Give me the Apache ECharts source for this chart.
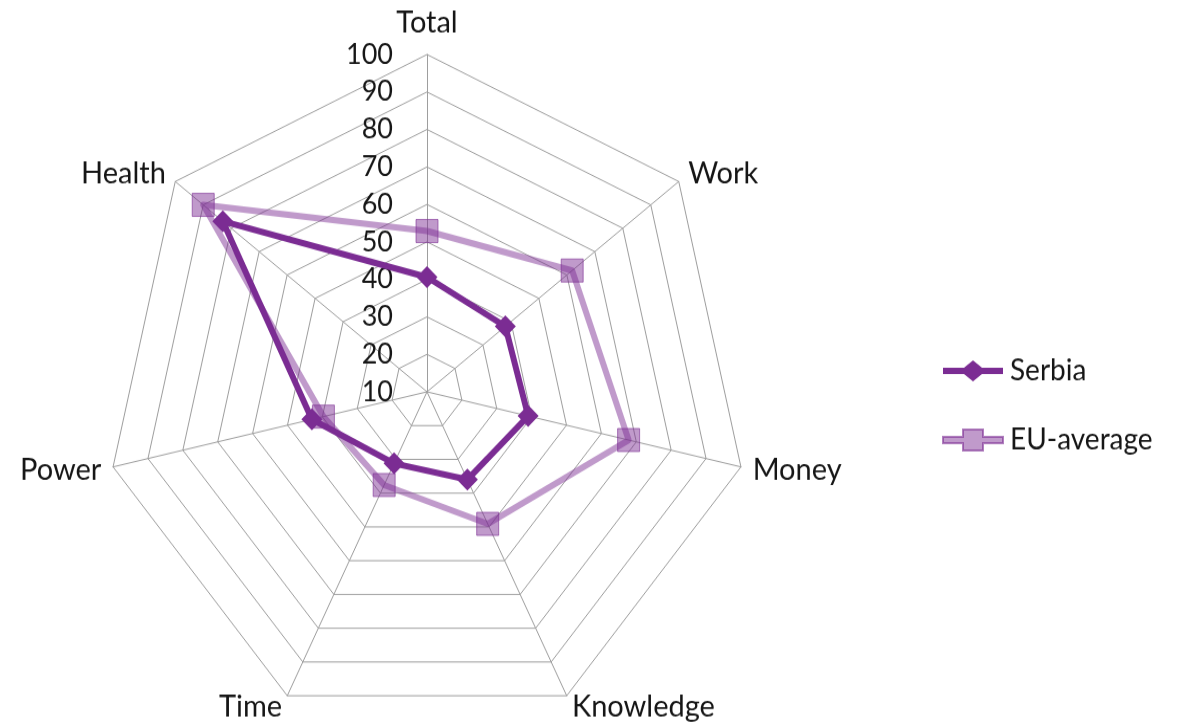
<!DOCTYPE html>
<html><head><meta charset="utf-8">
<script src="https://cdn.jsdelivr.net/npm/echarts@6/dist/echarts.min.js"></script>
<style>
html,body{margin:0;padding:0;background:#fff;overflow:hidden}
#wrap{width:1178px;height:727px;overflow:hidden;position:relative}
#chart{width:1178px;height:694px;transform:scaleY(1.0476);transform-origin:0 0}
</style></head><body><div id="wrap"><div id="chart"></div></div>
<script>
// Data
const categories = ['Total', 'Work', 'Money', 'Knowledge', 'Time', 'Power', 'Health'];
const serbia = [40.6, 38.0, 39.0, 36.0, 31.2, 43.0, 83.0];
const euAverage = [52.9, 61.9, 67.8, 49.1, 37.6, 39.7, 90.0];
const seriesNames = ['Serbia', 'EU-average'];
const axisMin = 10;
const axisMax = 100;
const axisSplits = 9;

// ECharts lays indicators out counter-clockwise; reorder so they read clockwise.
const order = [0, 6, 5, 4, 3, 2, 1];
const pick = arr => order.map(i => arr[i]);

const FONT = 'Lato, "Open Sans", sans-serif';
const TEXT_COLOR = '#161616';
const SERBIA_COLOR = '#7b2c93';
const EU_COLOR = 'rgba(123,44,147,0.48)';

const indicator = order.map((i, k) => {
  const o = { name: categories[i], min: axisMin, max: axisMax };
  if (k === 0) {
    o.nameGap = 16;
    o.axisLabel = { show: true, margin: 34, color: TEXT_COLOR, fontSize: 27, fontFamily: FONT };
  }
  return o;
});

const chart = echarts.init(document.getElementById('chart'));
chart.setOption({
  backgroundColor: '#fff',
  animation: false,
  legend: {
    orient: 'vertical',
    left: 937,
    top: 335,
    itemWidth: 64,
    itemHeight: 20,
    itemGap: 38,
    textStyle: { fontSize: 28, fontFamily: FONT, color: TEXT_COLOR, lineHeight: 20 },
    data: [
      { name: seriesNames[0], icon: 'path://M0,7L21,7L30,0L39,7L60,7L60,13L39,13L30,20L21,13L0,13Z' },
      { name: seriesNames[1], icon: 'path://M0,7L20,7L20,0L40,0L40,7L60,7L60,13L40,13L40,20L20,20L20,13L0,13Z' }
    ]
  },
  radar: {
    center: [427, 374],
    radius: 322,
    startAngle: 90,
    shape: 'polygon',
    splitNumber: axisSplits,
    indicator: indicator,
    axisName: { color: TEXT_COLOR, fontSize: 29, fontFamily: FONT },
    nameGap: 12,
    axisLine: { lineStyle: { color: '#9e9e9e', width: 1 } },
    splitLine: { lineStyle: { color: '#9e9e9e', width: 1 } },
    splitArea: { show: false },
    axisLabel: { show: false }
  },
  series: [
    {
      name: seriesNames[1],
      type: 'radar',
      z: 2,
      symbol: 'rect',
      symbolSize: 22,
      lineStyle: { color: EU_COLOR, width: 6 },
      itemStyle: { color: EU_COLOR, borderColor: 'rgba(123,44,147,0.6)', borderWidth: 1 },
      data: [{ value: pick(euAverage), name: seriesNames[1] }]
    },
    {
      name: seriesNames[0],
      type: 'radar',
      z: 3,
      symbol: 'diamond',
      symbolSize: 21,
      lineStyle: { color: SERBIA_COLOR, width: 6 },
      itemStyle: { color: SERBIA_COLOR },
      data: [{ value: pick(serbia), name: seriesNames[0] }]
    }
  ]
});
</script></body></html>
